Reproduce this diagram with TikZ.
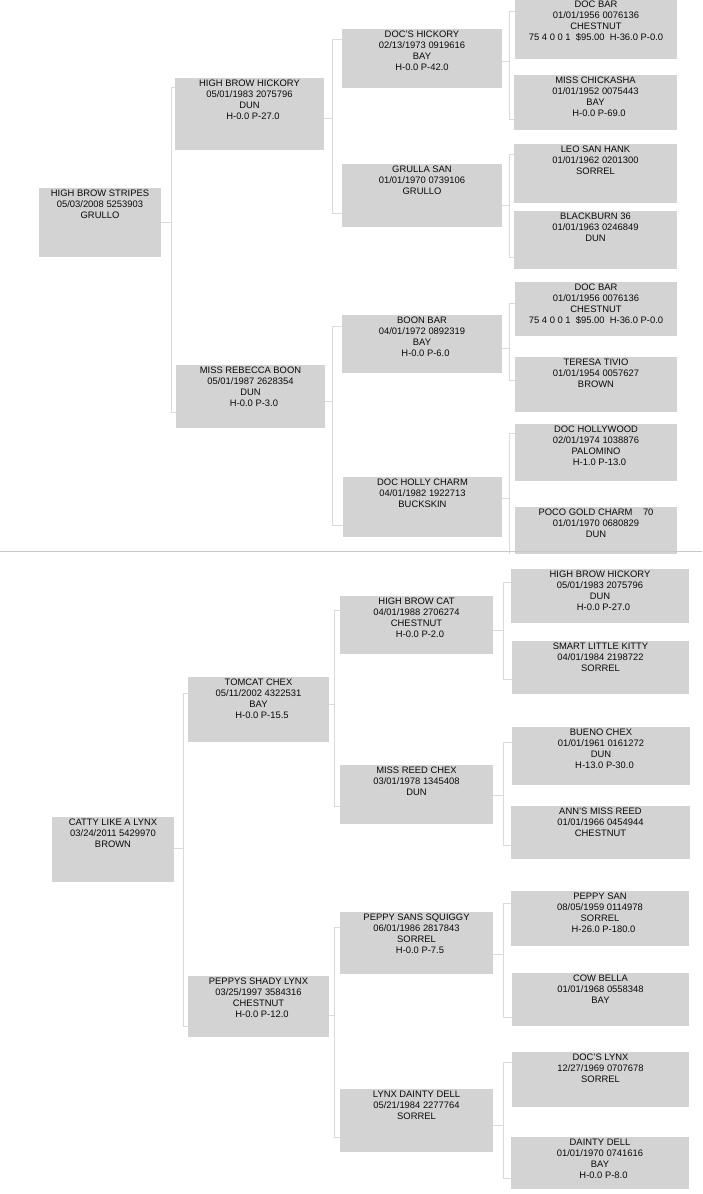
\documentclass[tikz,border=0pt]{standalone}
\usepackage{fontspec}
\setmainfont{Liberation Sans}
\definecolor{boxfill}{HTML}{D3D3D3}
\definecolor{connc}{HTML}{DADADA}
\definecolor{sepc}{HTML}{C8C8C8}
\definecolor{txtc}{HTML}{0A0A0A}
\tikzset{
  hbx/.style={rectangle, fill=boxfill, draw=none, inner sep=0pt, outer sep=0pt},
  htxt/.style={align=center, inner sep=0pt, text=txtc, font={\fontsize{9.4pt}{10.8pt}\selectfont}},
  conn/.style={draw=connc, line width=1pt},
  sepline/.style={draw=sepc, line width=1pt}
}
% \horse{name}{x1}{y1}{x2}{y2}{text}
\newcommand{\horse}[6]{%
  \node[hbx, minimum width={#4-#2}, minimum height={#5-#3}] (#1) at ({(#2+#4)/2},{(#3+#5)/2}) {};
  \node[htxt, anchor=north] (#1t) at ([yshift=-2.2pt]#1.north) {#6};}
% \bracket{parent}{py}{X}{child1}{y1}{child2}{y2}
\newcommand{\bracket}[7]{%
  \draw[conn] (#1.east |- 0,#2) -- (#3,#2);
  \draw[conn] (#4.west |- 0,#5) -| (#3,#7) -- (#6.west |- 0,#7);}
\newcommand{\hp}{\hspace*{7pt}}
\begin{document}
\begin{tikzpicture}[x=1pt,y=-1pt]
\useasboundingbox (0,0) rectangle (702,1194);
\fill[white] (0,0) rectangle (702,1194);
% ---------------- top pedigree ----------------
\begin{scope}
\clip (0,0) rectangle (702,553.5);
\horse{a0}{39}{188}{161}{257}{HIGH BROW STRIPES\\05/03/2008 5253903\\GRULLO}
\horse{a1}{175}{78}{324}{150}{HIGH BROW HICKORY\\05/01/1983 2075796\\DUN\\\hp H-0.0 P-27.0}
\horse{a2}{176}{365}{325}{428}{MISS REBECCA BOON\\05/01/1987 2628354\\DUN\\\hp H-0.0 P-3.0}
\horse{a3}{342}{29}{502}{88}{DOC'S HICKORY\\02/13/1973 0919616\\BAY\\H-0.0 P-42.0}
\horse{a4}{342}{164}{502}{227}{GRULLA SAN\\01/01/1970 0739106\\GRULLO}
\horse{a5}{342}{315}{502}{373}{BOON BAR\\04/01/1972 0892319\\BAY\\\hp H-0.0 P-6.0}
\horse{a6}{343}{477}{502}{537}{DOC HOLLY CHARM\\04/01/1982 1922713\\BUCKSKIN}
\horse{a7}{515}{-1}{677}{59}{DOC BAR\\01/01/1956 0076136\\CHESTNUT\\75 4 0 0 1\ \ \$95.00\ \ H-36.0 P-0.0}
\horse{a8}{514}{75}{677}{130}{MISS CHICKASHA\\01/01/1952 0075443\\BAY\\\hp H-0.0 P-69.0}
\horse{a9}{514}{144}{677}{203}{LEO SAN HANK\\01/01/1962 0201300\\SORREL}
\horse{a10}{514}{211}{677}{269}{BLACKBURN 36\\01/01/1963 0246849\\DUN}
\horse{a11}{515}{282}{677}{336}{DOC BAR\\01/01/1956 0076136\\CHESTNUT\\75 4 0 0 1\ \ \$95.00\ \ H-36.0 P-0.0}
\horse{a12}{515}{357}{677}{412}{TERESA TIVIO\\01/01/1954 0057627\\BROWN}
\horse{a13}{515}{424}{677}{481}{DOC HOLLYWOOD\\02/01/1974 1038876\\PALOMINO\\\hp H-1.0 P-13.0}
\horse{a14}{515}{507}{677}{560}{POCO GOLD CHARM\ \ \ \ 70\\01/01/1970 0680829\\DUN}
\bracket{a0}{222}{171}{a1}{87}{a2}{412}
\bracket{a1}{118}{332}{a3}{39}{a4}{213}
\bracket{a2}{401}{332}{a5}{326}{a6}{525}
\bracket{a3}{61}{509}{a7}{11}{a8}{119}
\bracket{a4}{205}{509}{a9}{154}{a10}{257}
\bracket{a5}{348}{509}{a11}{303}{a12}{380}
\bracket{a6}{498}{509}{a13}{433}{a14}{575}
\end{scope}
\draw[sepline] (0,551) -- (702,551);
% ---------------- bottom pedigree ----------------
\horse{b0}{52}{817}{174}{882}{CATTY LIKE A LYNX\\03/24/2011 5429970\\BROWN}
\horse{b1}{188}{677}{329}{742}{TOMCAT CHEX\\05/11/2002 4322531\\BAY\\\hp H-0.0 P-15.5}
\horse{b2}{188}{976}{329}{1037}{PEPPYS SHADY LYNX\\03/25/1997 3584316\\CHESTNUT\\\hp H-0.0 P-12.0}
\horse{b3}{340}{596}{493}{654}{HIGH BROW CAT\\04/01/1988 2706274\\CHESTNUT\\\hp H-0.0 P-2.0}
\horse{b4}{340}{765}{493}{824}{MISS REED CHEX\\03/01/1978 1345408\\DUN}
\horse{b5}{340}{912}{493}{974}{PEPPY SANS SQUIGGY\\06/01/1986 2817843\\SORREL\\\hp H-0.0 P-7.5}
\horse{b6}{340}{1089}{493}{1152}{LYNX DAINTY DELL\\05/21/1984 2277764\\SORREL}
\horse{b7}{511}{569}{689}{623}{HIGH BROW HICKORY\\05/01/1983 2075796\\DUN\\\hp H-0.0 P-27.0}
\horse{b8}{512}{641}{689}{694}{SMART LITTLE KITTY\\04/01/1984 2198722\\SORREL}
\horse{b9}{512}{727}{690}{785}{BUENO CHEX\\01/01/1961 0161272\\DUN\\\hp H-13.0 P-30.0}
\horse{b10}{511}{806}{690}{859}{ANN'S MISS REED\\01/01/1966 0454944\\CHESTNUT}
\horse{b11}{511}{891}{689}{946}{PEPPY SAN\\08/05/1959 0114978\\SORREL\\\hp H-26.0 P-180.0}
\horse{b12}{512}{973}{689}{1026}{COW BELLA\\01/01/1968 0558348\\BAY}
\horse{b13}{512}{1052}{689}{1107}{DOC'S LYNX\\12/27/1969 0707678\\SORREL}
\horse{b14}{511}{1137}{689}{1189}{DAINTY DELL\\01/01/1970 0741616\\BAY\\\hp H-0.0 P-8.0}
\bracket{b0}{848}{183}{b1}{693}{b2}{1026}
\bracket{b1}{704}{334}{b3}{610}{b4}{806}
\bracket{b2}{1015}{334}{b5}{927}{b6}{1137}
\bracket{b3}{630}{503}{b7}{582}{b8}{679}
\bracket{b4}{795}{503}{b9}{742}{b10}{845}
\bracket{b5}{954}{503}{b11}{903}{b12}{1017}
\bracket{b6}{1125}{503}{b13}{1062}{b14}{1178}
\end{tikzpicture}
\end{document}
